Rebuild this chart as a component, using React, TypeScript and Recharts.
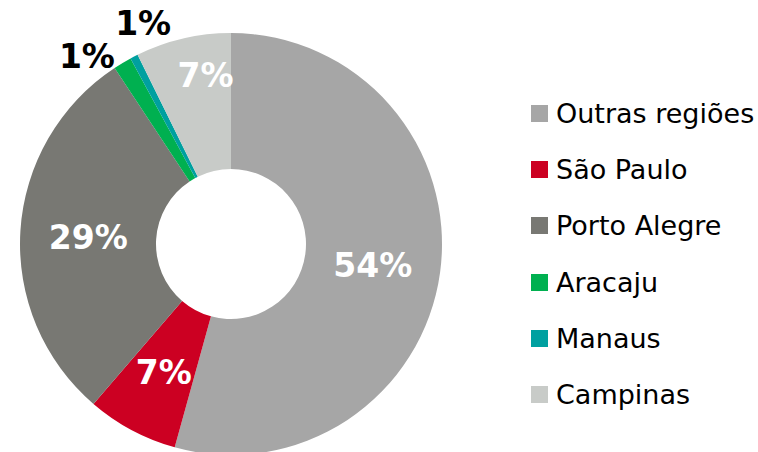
import { PieChart, Pie, Cell, Legend } from 'recharts'

const REGIONS = ['Outras regiões', 'São Paulo', 'Porto Alegre', 'Aracaju', 'Manaus', 'Campinas']
const SHARES = [54.3, 7.0, 29.4, 1.4, 0.6, 7.3]
const COLORS = ['#a6a6a6', '#cc0022', '#787873', '#00b050', '#00a0a0', '#c8cbc8']

const data = REGIONS.map((name, i) => ({ name, value: SHARES[i] }))

// label placement tweaks: radius (px from centre) and angular shift (deg, clockwise)
const LABEL_POS: Record<string, { r?: number; shift?: number; outside?: boolean }> = {
  'Aracaju': { r: 238, shift: -6.3, outside: true },
  'Manaus': { r: 239, shift: 5.8, outside: true },
  'Campinas': { r: 172, shift: 4.6 },
}

const RAD = Math.PI / 180
const FONT = '"DejaVu Sans", Verdana, sans-serif'

function renderLabel(props: any) {
  const { cx, cy, midAngle, innerRadius, outerRadius, percent, name } = props
  const pos = LABEL_POS[name] || {}
  const r = pos.r ?? (innerRadius + outerRadius) / 2
  const ang = midAngle - (pos.shift ?? 0)
  const x = cx + r * Math.cos(-ang * RAD)
  const y = cy + r * Math.sin(-ang * RAD)
  return (
    <text
      x={x}
      y={y + 2}
      fill={pos.outside ? '#000' : '#fff'}
      textAnchor="middle"
      dominantBaseline="central"
      fontFamily={FONT}
      fontWeight="bold"
      fontSize={33}
    >
      {Math.round(percent * 100)}%
    </text>
  )
}

function LegendBox() {
  return (
    <div style={{ display: 'flex', flexDirection: 'column' }}>
      {REGIONS.map((r, i) => (
        <div key={r} style={{ display: 'flex', alignItems: 'center', height: 56.3 }}>
          <span style={{ width: 17, height: 17, background: COLORS[i], marginRight: 8, flexShrink: 0 }} />
          <span style={{ fontFamily: FONT, fontSize: 27, color: '#000', whiteSpace: 'nowrap' }}>{r}</span>
        </div>
      ))}
    </div>
  )
}

export default function App() {
  return (
    <div style={{ position: 'absolute', left: 0, top: 0, width: 758, height: 452, background: '#fff' }}>
      <PieChart width={758} height={452} margin={{ top: 0, right: 0, bottom: 0, left: 0 }}>
        <Pie
          data={data}
          dataKey="value"
          nameKey="name"
          cx={231}
          cy={244}
          innerRadius={75}
          outerRadius={211}
          startAngle={90}
          endAngle={-270}
          stroke="none"
          label={renderLabel}
          labelLine={false}
          isAnimationActive={false}
        >
          {data.map((_, i) => (
            <Cell key={i} fill={COLORS[i]} />
          ))}
        </Pie>
        <Legend
          layout="vertical"
          align="right"
          verticalAlign="top"
          content={() => <LegendBox />}
          wrapperStyle={{ left: 531, top: 85, width: 227 }}
        />
      </PieChart>
    </div>
  )
}
